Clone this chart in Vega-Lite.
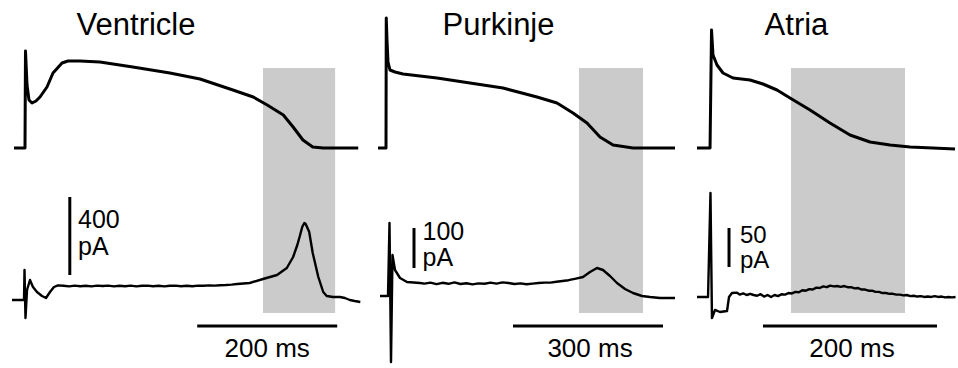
{
  "$schema": "https://vega.github.io/schema/vega-lite/v6.json",
  "background": "white",
  "padding": {"left": 10, "top": 0, "right": 0, "bottom": 0},
  "spacing": 15,
  "bounds": "flush",
  "config": {"view": {"stroke": null}, "text": {"font": "Liberation Sans", "color": "black"}},
  "datasets": {
    "rect1": [{"t0": 340, "t1": 443, "v0": -5, "v1": -250}],
    "rect2": [{"t0": 384, "t1": 512, "v0": -5, "v1": -250}],
    "rect3": [{"t0": 91.9, "t1": 222.9, "v0": -5, "v1": -250}],
    "ap1": [{"t": -15.7, "v": -85}, {"t": 0, "v": -85}, {"t": 0.7, "v": 12}, {"t": 2.9, "v": -22}, {"t": 5.7, "v": -37}, {"t": 10, "v": -40}, {"t": 15.7, "v": -38}, {"t": 21.4, "v": -34}, {"t": 31.4, "v": -24}, {"t": 40, "v": -10}, {"t": 52.9, "v": 0}, {"t": 61.4, "v": 2}, {"t": 78.6, "v": 2}, {"t": 107, "v": 1}, {"t": 154, "v": -4}, {"t": 207, "v": -10}, {"t": 250, "v": -16}, {"t": 297, "v": -27}, {"t": 326, "v": -34}, {"t": 346, "v": -42}, {"t": 369, "v": -52}, {"t": 383, "v": -64}, {"t": 397, "v": -77}, {"t": 411, "v": -84}, {"t": 426, "v": -85}, {"t": 476, "v": -85}],
    "ap2": [{"t": -18, "v": -85}, {"t": -2, "v": -85}, {"t": -1.5, "v": 45}, {"t": 0, "v": 23}, {"t": 2, "v": 1}, {"t": 6, "v": -7}, {"t": 16, "v": -9}, {"t": 32, "v": -11}, {"t": 100, "v": -15}, {"t": 166, "v": -20}, {"t": 232, "v": -25}, {"t": 300, "v": -34}, {"t": 340, "v": -40}, {"t": 372, "v": -50}, {"t": 400, "v": -60}, {"t": 426, "v": -74}, {"t": 452, "v": -82}, {"t": 492, "v": -85}, {"t": 576, "v": -85}],
    "ap3": [{"t": -16.1, "v": -85}, {"t": -1.1, "v": -85}, {"t": 0.6, "v": 33}, {"t": 2.3, "v": 8}, {"t": 6.9, "v": -2}, {"t": 13.8, "v": -10}, {"t": 25.3, "v": -15}, {"t": 44.8, "v": -17}, {"t": 59.7, "v": -21}, {"t": 75.8, "v": -27}, {"t": 90.8, "v": -35}, {"t": 113.8, "v": -47}, {"t": 136.7, "v": -60}, {"t": 159.7, "v": -72}, {"t": 182.7, "v": -79}, {"t": 205.7, "v": -82}, {"t": 228.7, "v": -84}, {"t": 280.4, "v": -86}],
    "cur1": [{"t": -18.6, "i": -70}, {"t": -1.4, "i": -70}, {"t": -0.7, "i": 80}, {"t": 0.7, "i": -160}, {"t": 2.9, "i": -20}, {"t": 7.1, "i": 30}, {"t": 11.4, "i": -5}, {"t": 17.1, "i": -30}, {"t": 24.3, "i": -50}, {"t": 30, "i": -60}, {"t": 35.7, "i": -30}, {"t": 41.4, "i": -5}, {"t": 47.1, "i": 3}, {"t": 55, "i": 1}, {"t": 63, "i": -2}, {"t": 71, "i": 2}, {"t": 79, "i": -1}, {"t": 87, "i": 1}, {"t": 95, "i": -2}, {"t": 103, "i": 2}, {"t": 111, "i": 0}, {"t": 119, "i": 2}, {"t": 127, "i": -2}, {"t": 135, "i": 1}, {"t": 143, "i": -1}, {"t": 151, "i": 2}, {"t": 159, "i": -2}, {"t": 167, "i": 1}, {"t": 175, "i": 2}, {"t": 183, "i": -1}, {"t": 191, "i": 1}, {"t": 199, "i": -2}, {"t": 207, "i": 1}, {"t": 215, "i": 2}, {"t": 223, "i": -1}, {"t": 231, "i": 1}, {"t": 239, "i": -1}, {"t": 247, "i": 2}, {"t": 255, "i": 1}, {"t": 263, "i": 3}, {"t": 271, "i": 2}, {"t": 279, "i": 4}, {"t": 287, "i": 5}, {"t": 295, "i": 7}, {"t": 303, "i": 10}, {"t": 321, "i": 15}, {"t": 340, "i": 35}, {"t": 360, "i": 55}, {"t": 374, "i": 90}, {"t": 383, "i": 145}, {"t": 389, "i": 205}, {"t": 393, "i": 255}, {"t": 396, "i": 295}, {"t": 399, "i": 315}, {"t": 401, "i": 310}, {"t": 406, "i": 270}, {"t": 411, "i": 165}, {"t": 419, "i": 45}, {"t": 426, "i": -30}, {"t": 431, "i": -50}, {"t": 440, "i": -55}, {"t": 450, "i": -55}, {"t": 457, "i": -60}, {"t": 464, "i": -70}, {"t": 471, "i": -75}, {"t": 479, "i": -80}],
    "cur2": [{"t": -14, "i": -32.5}, {"t": 2, "i": -32.5}, {"t": 5, "i": 150}, {"t": 8, "i": -197.5}, {"t": 11, "i": 70}, {"t": 16, "i": 32.5}, {"t": 26, "i": 12.5}, {"t": 40, "i": 2.5}, {"t": 66, "i": 0}, {"t": 75, "i": -1.5}, {"t": 87, "i": 1}, {"t": 99, "i": -3}, {"t": 111, "i": 0.5}, {"t": 123, "i": -2}, {"t": 135, "i": 1.5}, {"t": 147, "i": -2.5}, {"t": 159, "i": -0.5}, {"t": 171, "i": -3.5}, {"t": 183, "i": -1}, {"t": 195, "i": -2}, {"t": 207, "i": 1}, {"t": 219, "i": -1.5}, {"t": 231, "i": 1.5}, {"t": 243, "i": 0}, {"t": 255, "i": -2.5}, {"t": 267, "i": -1}, {"t": 279, "i": -3}, {"t": 291, "i": -1.5}, {"t": 303, "i": 0}, {"t": 315, "i": 1}, {"t": 327, "i": 1}, {"t": 339, "i": 3}, {"t": 351, "i": 5}, {"t": 363, "i": 7}, {"t": 378, "i": 11}, {"t": 392, "i": 15}, {"t": 406, "i": 27.5}, {"t": 420, "i": 37.5}, {"t": 432, "i": 32.5}, {"t": 446, "i": 17.5}, {"t": 460, "i": 0}, {"t": 476, "i": -15}, {"t": 492, "i": -25}, {"t": 510, "i": -32.5}, {"t": 526, "i": -35}, {"t": 546, "i": -37.5}, {"t": 576, "i": -37.5}],
    "cur3": [{"t": -16.1, "i": -2.6}, {"t": -3.4, "i": -2.6}, {"t": -0.6, "i": 130.8}, {"t": 1.1, "i": -29.5}, {"t": 4.6, "i": -19.2}, {"t": 10.3, "i": -21.8}, {"t": 18.4, "i": -20.5}, {"t": 20.7, "i": -2.6}, {"t": 24.1, "i": 2.6}, {"t": 29.9, "i": 3}, {"t": 33, "i": 0.5}, {"t": 37, "i": 2}, {"t": 41, "i": 0}, {"t": 45, "i": 1.5}, {"t": 49, "i": 0}, {"t": 53, "i": -1}, {"t": 57, "i": 1}, {"t": 61, "i": -2}, {"t": 65, "i": 0}, {"t": 69, "i": -2.5}, {"t": 73, "i": 0}, {"t": 77, "i": -1.5}, {"t": 81, "i": 1}, {"t": 85, "i": 0.5}, {"t": 89, "i": 2.5}, {"t": 93, "i": 2}, {"t": 97, "i": 4}, {"t": 101, "i": 3.5}, {"t": 105, "i": 6}, {"t": 109, "i": 5.5}, {"t": 113, "i": 7.5}, {"t": 117, "i": 7}, {"t": 121, "i": 9.5}, {"t": 125, "i": 9}, {"t": 129, "i": 11}, {"t": 133, "i": 10}, {"t": 137, "i": 12}, {"t": 141, "i": 11}, {"t": 145, "i": 11.5}, {"t": 149, "i": 10.5}, {"t": 153, "i": 11.5}, {"t": 157, "i": 10}, {"t": 161, "i": 10}, {"t": 165, "i": 8.5}, {"t": 169, "i": 9}, {"t": 173, "i": 7}, {"t": 177, "i": 7}, {"t": 181, "i": 5.5}, {"t": 185, "i": 5.5}, {"t": 189, "i": 4}, {"t": 193, "i": 4}, {"t": 197, "i": 2.5}, {"t": 201, "i": 2.5}, {"t": 205, "i": 1.5}, {"t": 209, "i": 1.5}, {"t": 213, "i": 0.5}, {"t": 217, "i": 0.5}, {"t": 221, "i": -0.5}, {"t": 225, "i": 0}, {"t": 229, "i": -1.5}, {"t": 233, "i": -1}, {"t": 237, "i": -2}, {"t": 241, "i": -1.5}, {"t": 245, "i": -2.5}, {"t": 249, "i": -2}, {"t": 253, "i": -2.5}, {"t": 257, "i": -1.5}, {"t": 261, "i": -2.5}, {"t": 265, "i": -2}, {"t": 269, "i": -3}, {"t": 273, "i": -2.5}, {"t": 277, "i": -3}, {"t": 281, "i": -2.5}],
    "bar1": [{"t": 64, "t2": 64, "i": 445, "i2": 55}, {"t": 246, "t2": 446, "i": -200, "i2": -200}],
    "bar2": [{"t": 54, "t2": 54, "i": 137.5, "i2": 37.5}, {"t": 252, "t2": 552, "i": -107.5, "i2": -107.5}],
    "bar3": [{"t": 20.7, "t2": 20.7, "i": 85.9, "i2": 35.9}, {"t": 59.7, "t2": 259.7, "i": -39.7, "i2": -39.7}],
    "lab1": [{"t": 75.7, "i": 290, "label": ["400", "pA"]}],
    "lab2": [{"t": 71, "i": 107.5, "label": ["100", "pA"]}],
    "lab3": [{"t": 33.3, "i": 66.7, "label": ["50", "pA"]}],
    "ms1": [{"t": 346, "i": -355, "label": "200 ms"}],
    "ms2": [{"t": 406, "i": -185, "label": "300 ms"}],
    "ms3": [{"t": 162, "i": -79.5, "label": "200 ms"}],
    "title1": [{"t": 158.6, "v": 28, "label": "Ventricle"}],
    "title2": [{"t": 223, "v": 28, "label": "Purkinje"}],
    "title3": [{"t": 98.2, "v": 28, "label": "Atria"}]
  },
  "hconcat": [
    {
      "width": 352, "height": 368,
      "resolve": {"scale": {"y": "independent"}},
      "layer": [
        {"data": {"name": "rect1"}, "mark": {"type": "rect", "color": "#cbcbcb"},
         "encoding": {"x": {"field": "t0", "type": "quantitative", "scale": {"domain": [-21.43, 481.4], "nice": false, "zero": false}, "axis": null}, "x2": {"field": "t1"},
                      "y": {"field": "v0", "type": "quantitative", "scale": {"domain": [-305, 63], "nice": false, "zero": false}, "axis": null}, "y2": {"field": "v1"}}},
        {"data": {"name": "ap1"}, "mark": {"type": "line", "color": "black", "strokeWidth": 3, "strokeJoin": "round"},
         "encoding": {"x": {"field": "t", "type": "quantitative", "scale": {"domain": [-21.43, 481.4], "nice": false, "zero": false}, "axis": null},
                      "y": {"field": "v", "type": "quantitative", "scale": {"domain": [-305, 63], "nice": false, "zero": false}, "axis": null}}},
        {"data": {"name": "cur1"}, "mark": {"type": "line", "color": "black", "strokeWidth": 2.4, "strokeJoin": "round"},
         "encoding": {"x": {"field": "t", "type": "quantitative", "scale": {"domain": [-21.43, 481.4], "nice": false, "zero": false}, "axis": null},
                      "y": {"field": "i", "type": "quantitative", "scale": {"domain": [-410, 1430], "nice": false, "zero": false}, "axis": null}}},
        {"data": {"name": "bar1"}, "mark": {"type": "rule", "color": "black", "strokeWidth": 3},
         "encoding": {"x": {"field": "t", "type": "quantitative", "scale": {"domain": [-21.43, 481.4], "nice": false, "zero": false}, "axis": null}, "x2": {"field": "t2"},
                      "y": {"field": "i", "type": "quantitative", "scale": {"domain": [-410, 1430], "nice": false, "zero": false}, "axis": null}, "y2": {"field": "i2"}}},
        {"data": {"name": "lab1"}, "mark": {"type": "text", "align": "left", "baseline": "alphabetic", "fontSize": 25, "lineHeight": 27},
         "encoding": {"x": {"field": "t", "type": "quantitative", "scale": {"domain": [-21.43, 481.4], "nice": false, "zero": false}, "axis": null},
                      "y": {"field": "i", "type": "quantitative", "scale": {"domain": [-410, 1430], "nice": false, "zero": false}, "axis": null}, "text": {"field": "label"}}},
        {"data": {"name": "ms1"}, "mark": {"type": "text", "align": "center", "baseline": "alphabetic", "fontSize": 26},
         "encoding": {"x": {"field": "t", "type": "quantitative", "scale": {"domain": [-21.43, 481.4], "nice": false, "zero": false}, "axis": null},
                      "y": {"field": "i", "type": "quantitative", "scale": {"domain": [-410, 1430], "nice": false, "zero": false}, "axis": null}, "text": {"field": "label"}}},
        {"data": {"name": "title1"}, "mark": {"type": "text", "align": "center", "baseline": "alphabetic", "fontSize": 31},
         "encoding": {"x": {"field": "t", "type": "quantitative", "scale": {"domain": [-21.43, 481.4], "nice": false, "zero": false}, "axis": null},
                      "y": {"field": "v", "type": "quantitative", "scale": {"domain": [-305, 63], "nice": false, "zero": false}, "axis": null}, "text": {"field": "label"}}}
      ]
    },
    {
      "width": 301, "height": 368,
      "resolve": {"scale": {"y": "independent"}},
      "layer": [
        {"data": {"name": "rect2"}, "mark": {"type": "rect", "color": "#cbcbcb"},
         "encoding": {"x": {"field": "t0", "type": "quantitative", "scale": {"domain": [-20, 582], "nice": false, "zero": false}, "axis": null}, "x2": {"field": "t1"},
                      "y": {"field": "v0", "type": "quantitative", "scale": {"domain": [-305, 63], "nice": false, "zero": false}, "axis": null}, "y2": {"field": "v1"}}},
        {"data": {"name": "ap2"}, "mark": {"type": "line", "color": "black", "strokeWidth": 3, "strokeJoin": "round"},
         "encoding": {"x": {"field": "t", "type": "quantitative", "scale": {"domain": [-20, 582], "nice": false, "zero": false}, "axis": null},
                      "y": {"field": "v", "type": "quantitative", "scale": {"domain": [-305, 63], "nice": false, "zero": false}, "axis": null}}},
        {"data": {"name": "cur2"}, "mark": {"type": "line", "color": "black", "strokeWidth": 2.4, "strokeJoin": "round"},
         "encoding": {"x": {"field": "t", "type": "quantitative", "scale": {"domain": [-20, 582], "nice": false, "zero": false}, "axis": null},
                      "y": {"field": "i", "type": "quantitative", "scale": {"domain": [-212.5, 707.5], "nice": false, "zero": false}, "axis": null}}},
        {"data": {"name": "bar2"}, "mark": {"type": "rule", "color": "black", "strokeWidth": 3},
         "encoding": {"x": {"field": "t", "type": "quantitative", "scale": {"domain": [-20, 582], "nice": false, "zero": false}, "axis": null}, "x2": {"field": "t2"},
                      "y": {"field": "i", "type": "quantitative", "scale": {"domain": [-212.5, 707.5], "nice": false, "zero": false}, "axis": null}, "y2": {"field": "i2"}}},
        {"data": {"name": "lab2"}, "mark": {"type": "text", "align": "left", "baseline": "alphabetic", "fontSize": 25, "lineHeight": 26},
         "encoding": {"x": {"field": "t", "type": "quantitative", "scale": {"domain": [-20, 582], "nice": false, "zero": false}, "axis": null},
                      "y": {"field": "i", "type": "quantitative", "scale": {"domain": [-212.5, 707.5], "nice": false, "zero": false}, "axis": null}, "text": {"field": "label"}}},
        {"data": {"name": "ms2"}, "mark": {"type": "text", "align": "center", "baseline": "alphabetic", "fontSize": 26},
         "encoding": {"x": {"field": "t", "type": "quantitative", "scale": {"domain": [-20, 582], "nice": false, "zero": false}, "axis": null},
                      "y": {"field": "i", "type": "quantitative", "scale": {"domain": [-212.5, 707.5], "nice": false, "zero": false}, "axis": null}, "text": {"field": "label"}}},
        {"data": {"name": "title2"}, "mark": {"type": "text", "align": "center", "baseline": "alphabetic", "fontSize": 31},
         "encoding": {"x": {"field": "t", "type": "quantitative", "scale": {"domain": [-20, 582], "nice": false, "zero": false}, "axis": null},
                      "y": {"field": "v", "type": "quantitative", "scale": {"domain": [-305, 63], "nice": false, "zero": false}, "axis": null}, "text": {"field": "label"}}}
      ]
    },
    {
      "width": 265, "height": 368,
      "resolve": {"scale": {"y": "independent"}},
      "layer": [
        {"data": {"name": "rect3"}, "mark": {"type": "rect", "color": "#cbcbcb"},
         "encoding": {"x": {"field": "t0", "type": "quantitative", "scale": {"domain": [-20.68, 283.8], "nice": false, "zero": false}, "axis": null}, "x2": {"field": "t1"},
                      "y": {"field": "v0", "type": "quantitative", "scale": {"domain": [-305, 63], "nice": false, "zero": false}, "axis": null}, "y2": {"field": "v1"}}},
        {"data": {"name": "ap3"}, "mark": {"type": "line", "color": "black", "strokeWidth": 3, "strokeJoin": "round"},
         "encoding": {"x": {"field": "t", "type": "quantitative", "scale": {"domain": [-20.68, 283.8], "nice": false, "zero": false}, "axis": null},
                      "y": {"field": "v", "type": "quantitative", "scale": {"domain": [-305, 63], "nice": false, "zero": false}, "axis": null}}},
        {"data": {"name": "cur3"}, "mark": {"type": "line", "color": "black", "strokeWidth": 2.4, "strokeJoin": "round"},
         "encoding": {"x": {"field": "t", "type": "quantitative", "scale": {"domain": [-20.68, 283.8], "nice": false, "zero": false}, "axis": null},
                      "y": {"field": "i", "type": "quantitative", "scale": {"domain": [-93.6, 378.2], "nice": false, "zero": false}, "axis": null}}},
        {"data": {"name": "bar3"}, "mark": {"type": "rule", "color": "black", "strokeWidth": 3},
         "encoding": {"x": {"field": "t", "type": "quantitative", "scale": {"domain": [-20.68, 283.8], "nice": false, "zero": false}, "axis": null}, "x2": {"field": "t2"},
                      "y": {"field": "i", "type": "quantitative", "scale": {"domain": [-93.6, 378.2], "nice": false, "zero": false}, "axis": null}, "y2": {"field": "i2"}}},
        {"data": {"name": "lab3"}, "mark": {"type": "text", "align": "left", "baseline": "alphabetic", "fontSize": 24, "lineHeight": 25},
         "encoding": {"x": {"field": "t", "type": "quantitative", "scale": {"domain": [-20.68, 283.8], "nice": false, "zero": false}, "axis": null},
                      "y": {"field": "i", "type": "quantitative", "scale": {"domain": [-93.6, 378.2], "nice": false, "zero": false}, "axis": null}, "text": {"field": "label"}}},
        {"data": {"name": "ms3"}, "mark": {"type": "text", "align": "center", "baseline": "alphabetic", "fontSize": 26},
         "encoding": {"x": {"field": "t", "type": "quantitative", "scale": {"domain": [-20.68, 283.8], "nice": false, "zero": false}, "axis": null},
                      "y": {"field": "i", "type": "quantitative", "scale": {"domain": [-93.6, 378.2], "nice": false, "zero": false}, "axis": null}, "text": {"field": "label"}}},
        {"data": {"name": "title3"}, "mark": {"type": "text", "align": "center", "baseline": "alphabetic", "fontSize": 31},
         "encoding": {"x": {"field": "t", "type": "quantitative", "scale": {"domain": [-20.68, 283.8], "nice": false, "zero": false}, "axis": null},
                      "y": {"field": "v", "type": "quantitative", "scale": {"domain": [-305, 63], "nice": false, "zero": false}, "axis": null}, "text": {"field": "label"}}}
      ]
    }
  ]
}
